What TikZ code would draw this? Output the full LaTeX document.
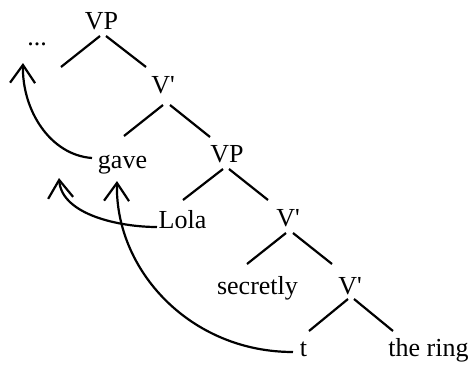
\documentclass[tikz,border=0pt]{standalone}
\usepackage{fontspec}
\setmainfont{Liberation Serif}
\usetikzlibrary{calc,arrows.meta}
\begin{document}
\begin{tikzpicture}[x=1pt,y=-1pt,
  lbl/.style={anchor=base,inner sep=0pt,font=\fontsize{26}{30}\selectfont},
  branch/.style={line width=2.2pt},
  move/.style={line width=2.2pt,-{Straight Barb[length=18pt,width=25pt,line cap=butt,line join=miter]}}]
\useasboundingbox (0,0) rectangle (469,365);
% nodes
\node[lbl] (vp1) at (101.5,29.5) {VP};
\node[lbl] (dots) at (37,45) {...};
\node[lbl] (vbar1) at (163,93) {V\textquotesingle};
\node[lbl] (gave) at (122.5,168) {gave};
\node[lbl] (vp2) at (227,162) {VP};
\node[lbl] (lola) at (182.5,228) {Lola};
\node[lbl] (vbar2) at (288,226) {V\textquotesingle};
\node[lbl] (secretly) at (257.5,294) {secretly};
\node[lbl] (vbar3) at (350,294) {V\textquotesingle};
\node[lbl] (t) at (303.5,356) {t};
\node[lbl] (ring) at (428.5,356) {the ring};
\coordinate (spec) at (61,67);
\coordinate (land1) at (23,63);
\coordinate (land2) at (59,178);
\coordinate (land3) at (117,181);
% branches
\draw[branch] ($(vp1.base)+(-1.5,6.5)$) -- (spec);
\draw[branch] ($(vp1.base)+(4.5,6.5)$) -- ($(vbar1.base)+(-17,-26)$);
\draw[branch] ($(vbar1.base)+(0,12)$) -- ($(gave.base)+(1.5,-32)$);
\draw[branch] ($(vbar1.base)+(7,12)$) -- ($(vp2.base)+(-17,-25)$);
\draw[branch] ($(vp2.base)+(-4,7)$) -- ($(lola.base)+(0.5,-28)$);
\draw[branch] ($(vp2.base)+(2,7)$) -- ($(vbar2.base)+(-20,-26)$);
\draw[branch] ($(vbar2.base)+(-2,7)$) -- ($(secretly.base)+(-10.5,-30)$);
\draw[branch] ($(vbar2.base)+(5,7)$) -- ($(vbar3.base)+(-18,-30)$);
\draw[branch] ($(vbar3.base)+(-2,5)$) -- ($(t.base)+(5.5,-25)$);
\draw[branch] ($(vbar3.base)+(4,5)$) -- ($(ring.base)+(-35.5,-25)$);
% movement arrows
\draw[move] ($(gave.base)+(-30.5,-10)$) .. controls (50,155) and (22,110) .. (land1);
\draw[move] ($(lola.base)+(-25.5,-1)$) .. controls (120,227) and (62,215) .. (land2);
\draw[move] ($(t.base)+(-10.5,-4)$) .. controls (190,352) and (115,270) .. (land3);
\end{tikzpicture}
\end{document}
